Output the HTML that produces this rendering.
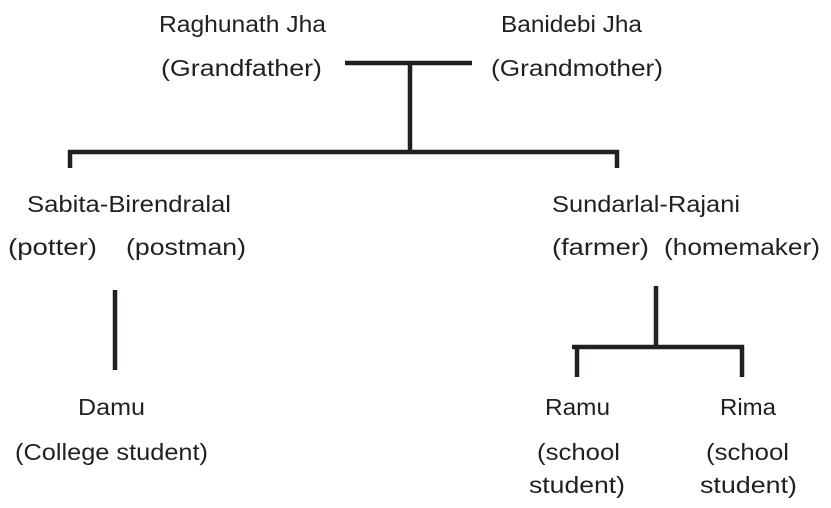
<!DOCTYPE html>
<html><head><meta charset="utf-8"><style>
html,body{margin:0;padding:0;background:#fff;width:831px;height:508px;overflow:hidden}
text{font-family:"Liberation Sans",sans-serif;font-size:23px;fill:#231f20}
</style></head><body>
<svg width="831" height="508" viewBox="0 0 831 508" xmlns="http://www.w3.org/2000/svg">
<g stroke="#231f20" stroke-width="4.5" fill="none">
<line x1="345" y1="63" x2="472" y2="63"/>
<line x1="410" y1="63" x2="410" y2="152"/>
<line x1="68" y1="152" x2="619" y2="152"/>
<line x1="70" y1="150" x2="70" y2="168"/>
<line x1="617" y1="150" x2="617" y2="168"/>
<line x1="115" y1="290" x2="115" y2="370"/>
<line x1="656" y1="286" x2="656" y2="347"/>
<line x1="572" y1="347" x2="744" y2="347"/>
<line x1="577" y1="345" x2="577" y2="377"/>
<line x1="742" y1="345" x2="742" y2="377"/>
</g>
<text x="159" y="32" textLength="167" lengthAdjust="spacingAndGlyphs">Raghunath Jha</text>
<text x="161" y="76" textLength="161" lengthAdjust="spacingAndGlyphs">(Grandfather)</text>
<text x="501" y="32" textLength="141" lengthAdjust="spacingAndGlyphs">Banidebi Jha</text>
<text x="491" y="76" textLength="172" lengthAdjust="spacingAndGlyphs">(Grandmother)</text>
<text x="27" y="212" textLength="204" lengthAdjust="spacingAndGlyphs">Sabita-Birendralal</text>
<text x="8" y="255" textLength="89" lengthAdjust="spacingAndGlyphs">(potter)</text>
<text x="126" y="255" textLength="120" lengthAdjust="spacingAndGlyphs">(postman)</text>
<text x="552" y="212" textLength="188" lengthAdjust="spacingAndGlyphs">Sundarlal-Rajani</text>
<text x="552" y="255" textLength="97" lengthAdjust="spacingAndGlyphs">(farmer)</text>
<text x="664" y="255" textLength="156" lengthAdjust="spacingAndGlyphs">(homemaker)</text>
<text x="78" y="415" textLength="67" lengthAdjust="spacingAndGlyphs">Damu</text>
<text x="15" y="460" textLength="193" lengthAdjust="spacingAndGlyphs">(College student)</text>
<text x="545" y="415" textLength="65" lengthAdjust="spacingAndGlyphs">Ramu</text>
<text x="537" y="460" textLength="83" lengthAdjust="spacingAndGlyphs">(school</text>
<text x="529" y="493" textLength="96" lengthAdjust="spacingAndGlyphs">student)</text>
<text x="720" y="415" textLength="56" lengthAdjust="spacingAndGlyphs">Rima</text>
<text x="706" y="460" textLength="83" lengthAdjust="spacingAndGlyphs">(school</text>
<text x="700" y="493" textLength="97" lengthAdjust="spacingAndGlyphs">student)</text>
</svg>
</body></html>
